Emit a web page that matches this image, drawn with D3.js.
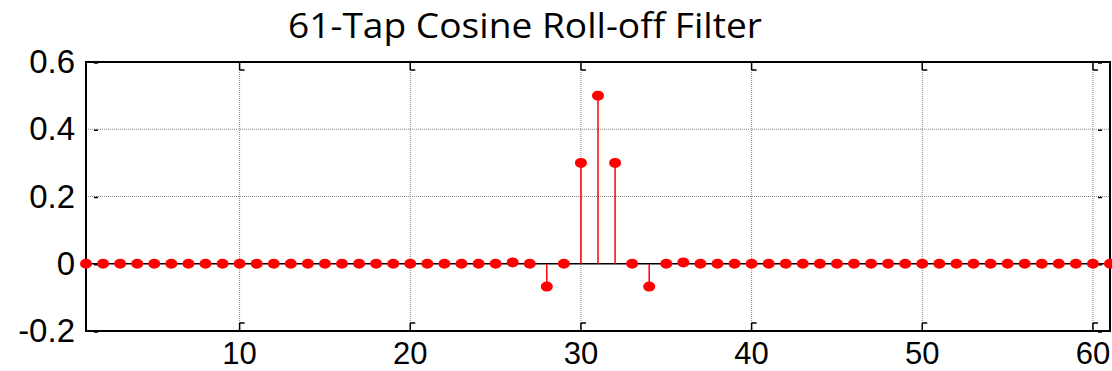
<!DOCTYPE html>
<html lang="en">
<head>
  <meta charset="UTF-8">
  <title>61-Tap Cosine Roll-off Filter</title>
  <style>
    body, html { margin: 0; padding: 0; background: #fff; }
    svg { display: block; }
  </style>
</head>
<body>
  <svg id="svg" width="1112" height="371"></svg>

  <script src="https://d3js.org/d3.v7.min.js"></script>
  <script>
    // tap index 1..61
    const taps = d3.range(1, 62)
    // filter coefficients (mostly zero)
    const coeffs = [
      0, 0, 0, 0, 0, 0, 0, 0, 0, 0,
      0, 0, 0, 0, 0, 0, 0, 0, 0, 0,
      0, 0, 0, 0, 0, 0.004, 0, -0.068, 0, 0.3,
      0.5, 0.3, 0, -0.068, 0, 0.004, 0, 0, 0, 0,
      0, 0, 0, 0, 0, 0, 0, 0, 0, 0,
      0, 0, 0, 0, 0, 0, 0, 0, 0, 0,
      0
    ]
    const xTicks = [10, 20, 30, 40, 50, 60]
    const yTicks = [-0.2, 0, 0.2, 0.4, 0.6]
    const yTickLabels = ['-0.2', '0', '0.2', '0.4', '0.6']
    const title = '61-Tap Cosine Roll-off Filter'

    // plot box edges
    const bx0 = 86, bx1 = 1110, by0 = 62, by1 = 331

    const svg = d3.select('#svg')

    const x = d3.scaleLinear().domain([1, 61]).range([bx0, bx1])
    const y = d3.scaleLinear().domain([-0.2, 0.6]).range([by1, by0])

    // dotted grid
    svg.append('g')
      .selectAll('line')
      .data(xTicks)
      .join('line')
      .attr('x1', d => x(d)).attr('x2', d => x(d))
      .attr('y1', by0).attr('y2', by1)
      .attr('stroke', '#888')
      .attr('stroke-width', 1)
      .attr('stroke-dasharray', '1,1')

    svg.append('g')
      .selectAll('line')
      .data(yTicks.filter(d => d > 0 && d < 0.6))
      .join('line')
      .attr('x1', bx0).attr('x2', bx1)
      .attr('y1', d => y(d)).attr('y2', d => y(d))
      .attr('stroke', '#888')
      .attr('stroke-width', 1)
      .attr('stroke-dasharray', '1,1')

    // small inner tick marks (MATLAB style)
    const tk = svg.append('g').attr('stroke', 'black').attr('stroke-width', 1.5)
    xTicks.forEach(t => {
      tk.append('line').attr('x1', x(t)).attr('x2', x(t)).attr('y1', by1).attr('y2', by1 - 8)
      tk.append('line').attr('x1', x(t)).attr('x2', x(t) + 5).attr('y1', by1 - 8).attr('y2', by1 - 8)
      tk.append('line').attr('x1', x(t)).attr('x2', x(t)).attr('y1', by0).attr('y2', by0 + 8)
      tk.append('line').attr('x1', x(t)).attr('x2', x(t) + 5).attr('y1', by0 + 8).attr('y2', by0 + 8)
    })
    yTicks.forEach(t => {
      tk.append('line').attr('x1', bx0 + 8).attr('x2', bx0 + 12).attr('y1', y(t) + 1).attr('y2', y(t) + 1)
      tk.append('line').attr('x1', bx1 - 12).attr('x2', bx1 - 8).attr('y1', y(t) + 1).attr('y2', y(t) + 1)
    })

    // axes box
    svg.append('rect')
      .attr('x', bx0).attr('y', by0)
      .attr('width', bx1 - bx0).attr('height', by1 - by0)
      .attr('fill', 'none')
      .attr('stroke', 'black')
      .attr('stroke-width', 2)

    // baseline of the stem plot
    svg.append('line')
      .attr('x1', bx0).attr('x2', bx1)
      .attr('y1', y(0)).attr('y2', y(0))
      .attr('stroke', 'black')
      .attr('stroke-width', 1.5)

    const data = taps.map((t, i) => ({ t: t, v: coeffs[i] }))

    // stems
    svg.append('g')
      .selectAll('line')
      .data(data.filter(d => Math.abs(d.v) > 0.01))
      .join('line')
      .attr('x1', d => x(d.t)).attr('x2', d => x(d.t))
      .attr('y1', y(0)).attr('y2', d => y(d.v))
      .attr('stroke', 'red')
      .attr('stroke-width', 1.5)

    // markers
    svg.append('g')
      .selectAll('ellipse')
      .data(data)
      .join('ellipse')
      .attr('cx', d => x(d.t))
      .attr('cy', d => y(d.v))
      .attr('rx', 6)
      .attr('ry', 5)
      .attr('fill', 'red')

    // tick labels
    svg.append('g')
      .selectAll('text')
      .data(xTicks)
      .join('text')
      .attr('x', d => x(d))
      .attr('y', 364)
      .attr('text-anchor', 'middle')
      .attr('font-family', 'Liberation Sans, Arial, sans-serif')
      .attr('font-size', 31)
      .text(d => d)

    svg.append('g')
      .selectAll('text')
      .data(yTicks)
      .join('text')
      .attr('x', 75)
      .attr('y', d => y(d) + 11)
      .attr('text-anchor', 'end')
      .attr('font-family', 'Liberation Sans, Arial, sans-serif')
      .attr('font-size', 33)
      .text((d, i) => yTickLabels[i])

    // title
    svg.append('text')
      .attr('x', 288)
      .attr('y', 38)
      .attr('font-family', 'Open Sans, Noto Sans, sans-serif')
      .attr('font-size', 34)
      .attr('textLength', 474)
      .attr('lengthAdjust', 'spacingAndGlyphs')
      .text(title)
  </script>
</body>
</html>
